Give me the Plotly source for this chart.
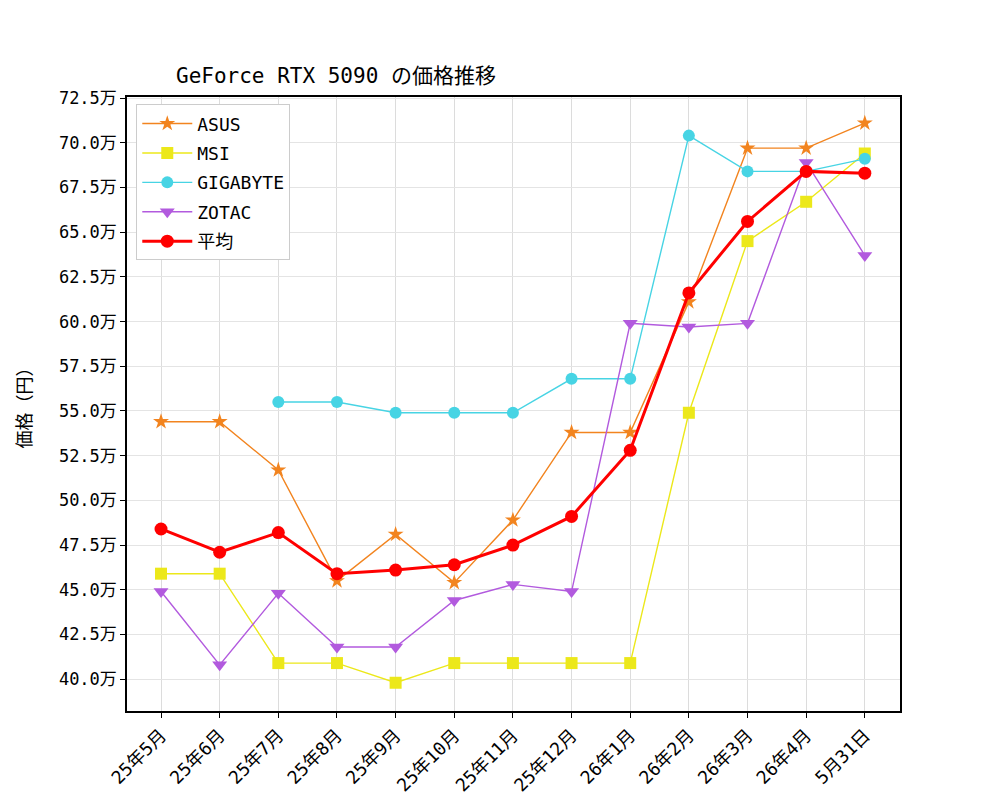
import plotly.graph_objects as go

# 価格データ（円）
months = ["25年5月", "25年6月", "25年7月", "25年8月", "25年9月", "25年10月", "25年11月",
          "25年12月", "26年1月", "26年2月", "26年3月", "26年4月", "5月31日"]

asus = [544000, 544000, 517000, 455000, 481000, 454000, 489000,
        538000, 538000, 611000, 697000, 697000, 711000]
msi = [459000, 459000, 409000, 409000, 398000, 409000, 409000,
       409000, 409000, 549000, 645000, 667000, 694000]
gigabyte = [None, None, 555000, 555000, 549000, 549000, 549000,
            568000, 568000, 704000, 684000, 684000, 691000]
zotac = [449000, 408000, 448000, 418000, 418000, 444000, 453000,
         449000, 599000, 597000, 599000, 689000, 637000]
average = [484000, 471000, 482000, 459000, 461000, 464000, 475000,
           491000, 528000, 616000, 656000, 684000, 683000]

ytick_vals = [400000, 425000, 450000, 475000, 500000, 525000, 550000, 575000,
              600000, 625000, 650000, 675000, 700000, 725000]
ytick_text = [f"{v / 10000:.1f}万" for v in ytick_vals]

FONT = "DejaVu Sans Mono, Noto Sans CJK JP"

series = [
    ("ASUS", asus, "#f2841f", "star", 12, 1.4),
    ("MSI", msi, "#ece81a", "square", 12, 1.4),
    ("GIGABYTE", gigabyte, "#47d4e4", "circle", 12, 1.4),
    ("ZOTAC", zotac, "#b25ade", "triangle-down", 13, 1.4),
]

fig = go.Figure()
for name, vals, color, symbol, msize, lw in series:
    fig.add_trace(go.Scatter(x=months, y=vals, name=name, legendgroup=name, mode="lines+markers",
                             line=dict(color=color, width=lw),
                             marker=dict(symbol=symbol, size=msize, color=color,
                                         line=dict(width=0))))

fig.add_trace(go.Scatter(x=months, y=average, name="平均", legendgroup="avg", mode="lines+markers",
                         line=dict(color="#ff0000", width=3),
                         marker=dict(symbol="circle", size=13, color="#ff0000",
                                     line=dict(width=0))))

axis_common = dict(showline=True, linecolor="black", linewidth=1.5, mirror=True,
                   ticks="outside", ticklen=5, tickcolor="black", tickwidth=1,
                   showgrid=True, zeroline=False,
                   tickfont=dict(family=FONT, size=17, color="black"))

fig.update_layout(
    width=1000, height=800,
    paper_bgcolor="white", plot_bgcolor="white",
    margin=dict(l=119, r=108, t=89, b=92),
    font=dict(family=FONT, color="black"),
    title=dict(text="GeForce RTX 5090 の価格推移", xref="container", x=0.168, xanchor="left",
               y=0.915, yanchor="middle", font=dict(family=FONT, size=21, color="black")),
    xaxis=dict(axis_common, type="category", range=[-0.58, 12.6], tickangle=-45,
               gridcolor="#dcdcdc", gridwidth=1, tickfont=dict(family=FONT, size=18, color="black")),
    yaxis=dict(axis_common, range=[382200, 725600], tickvals=ytick_vals, ticktext=ytick_text,
               gridcolor="#e4e4e4", gridwidth=1),
    legend=dict(x=0.012, y=0.988, xanchor="left", yanchor="top",
                bgcolor="white", bordercolor="#cccccc", borderwidth=1,
                font=dict(family=FONT, size=18, color="black"),
                itemwidth=50, tracegroupgap=3),
    showlegend=True,
)

fig.add_annotation(text="価格（円）", xref="paper", yref="paper", x=-0.15, y=0.5,
                   textangle=-90, showarrow=False,
                   font=dict(family=FONT, size=18, color="black"))

fig.write_html("out.html")
